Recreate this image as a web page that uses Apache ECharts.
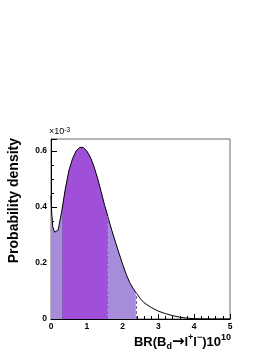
<!DOCTYPE html>
<html>
<head>
<meta charset="utf-8">
<script src="https://cdn.jsdelivr.net/npm/echarts@6/dist/echarts.min.js"></script>
<style>
html,body{margin:0;padding:0;background:#fff;}
#c{width:276px;height:357px;}
</style>
</head>
<body>
<div id="c"></div>
<script>
// Branching ratio BR(Bd -> l+ l-) x 10^10
const xs = [0, 0.02, 0.05, 0.1, 0.15, 0.2, 0.3, 0.31, 0.4, 0.5, 0.6, 0.7, 0.8, 0.85, 0.9, 1.0, 1.1, 1.2, 1.3, 1.4, 1.5, 1.57, 1.6, 1.7, 1.8, 1.9, 2.0, 2.1, 2.2, 2.3, 2.37, 2.4, 2.5, 2.6, 2.8, 3.0, 3.2, 3.4, 3.6, 3.8, 4.0, 4.5, 5.0];
// Probability density x 10^-3
const density = [0.44, 0.38, 0.33, 0.31, 0.305, 0.318, 0.385, 0.392, 0.465, 0.53, 0.572, 0.600, 0.613, 0.615, 0.613, 0.600, 0.578, 0.545, 0.503, 0.455, 0.405, 0.375, 0.36, 0.316, 0.275, 0.235, 0.196, 0.16, 0.13, 0.108, 0.095, 0.09, 0.072, 0.058, 0.041, 0.028, 0.019, 0.012, 0.0065, 0.003, 0.001, 0.0002, 0];
// interval boundaries
const innerBand = [0.31, 1.57];
const outerBand = [0, 2.37];
const xTicks = [0, 1, 2, 3, 4, 5];
const yTickLabels = [0, 0.2, 0.4, 0.6];

const pts = xs.map((x, i) => [x, density[i]]);
const valueAt = x => density[xs.indexOf(x)];
const outerPts = pts.filter(p => p[0] >= outerBand[0] && p[0] <= outerBand[1]);
const innerPts = pts.filter(p => p[0] >= innerBand[0] && p[0] <= innerBand[1]);
const bounds = [innerBand[0], innerBand[1], outerBand[1]];

const FONT = 'Liberation Sans';
const chart = echarts.init(document.getElementById('c'));
const yMax = 0.643;

chart.setOption({
  animation: false,
  backgroundColor: '#fff',
  grid: {left: 51, right: 46, top: 139, bottom: 38, show: true, borderColor: '#76686e', borderWidth: 1, backgroundColor: 'transparent'},
  xAxis: {
    type: 'value', min: xTicks[0], max: xTicks[xTicks.length - 1], interval: 1,
    axisLine: {show: true, lineStyle: {color: '#000', width: 1}},
    axisTick: {show: true, inside: true, length: 5, lineStyle: {color: '#000'}},
    minorTick: {show: true, splitNumber: 5, length: 3, lineStyle: {color: '#000'}},
    splitLine: {show: false},
    axisLabel: {fontSize: 8.5, fontWeight: 'bold', color: '#000', fontFamily: FONT, margin: 3}
  },
  yAxis: [
    {
      type: 'value', min: 0, max: yMax, interval: 0.05,
      axisLine: {show: true, lineStyle: {color: '#000', width: 1}},
      axisTick: {show: true, inside: true, length: 3, lineStyle: {color: '#000'}},
      axisLabel: {show: false}, splitLine: {show: false}
    },
    {
      type: 'value', min: 0, max: yMax, interval: 0.2, position: 'left', offset: 0,
      axisLine: {show: false},
      axisTick: {show: true, inside: true, length: 6, lineStyle: {color: '#000'}},
      splitLine: {show: false},
      axisLabel: {
        fontSize: 8.5, fontWeight: 'bold', color: '#000', fontFamily: FONT, margin: 4,
        formatter: v => {
          const hit = yTickLabels.find(t => Math.abs(t - v) < 1e-6);
          return hit === undefined ? '' : (hit === 0 ? '0' : hit.toFixed(1));
        }
      }
    }
  ],
  series: [
    {
      type: 'line', data: outerPts, showSymbol: false, silent: true, z: 1,
      lineStyle: {width: 0}, areaStyle: {color: '#a88cdc', opacity: 1}
    },
    {
      type: 'line', data: innerPts, showSymbol: false, silent: true, z: 2,
      lineStyle: {width: 0}, areaStyle: {color: '#a050d8', opacity: 1},
      markLine: {
        symbol: 'none', silent: true, label: {show: false},
        lineStyle: {color: '#7a64a8', type: [3, 2], width: 1},
        data: bounds.map(b => [{coord: [b, 0]}, {coord: [b, valueAt(b)]}])
      }
    },
    {
      type: 'line', data: pts, showSymbol: false, silent: true, z: 4,
      lineStyle: {color: '#000', width: 1}
    }
  ],
  graphic: [
    {
      type: 'text', x: 14, y: 138, rotation: Math.PI / 2,
      style: {text: 'Probability density', font: 'bold 14px "Liberation Sans"', fill: '#000',
        align: 'right', verticalAlign: 'middle', textAlign: 'right', textVerticalAlign: 'middle'}
    },
    {
      type: 'text', x: 231, y: 342,
      style: {
        text: '{m|BR(B}{s|d}{a|→}{m|l}{p|+}{m|l}{p|−}{m|)10}{p|10}',
        align: 'right', verticalAlign: 'middle', textAlign: 'right', textVerticalAlign: 'middle',
        fill: '#000',
        rich: {
          m: {fontSize: 13, fontWeight: 'bold', fontFamily: FONT, lineHeight: 18, fill: '#000', color: '#000'},
          a: {fontSize: 15, fontWeight: 'bold', fontFamily: 'DejaVu Sans', lineHeight: 18, fill: '#000', color: '#000'},
          s: {fontSize: 9, fontWeight: 'bold', fontFamily: FONT, lineHeight: 10, verticalAlign: 'bottom', fill: '#000', color: '#000'},
          p: {fontSize: 9, fontWeight: 'bold', fontFamily: FONT, lineHeight: 10, verticalAlign: 'top', fill: '#000', color: '#000'}
        }
      }
    },
    {
      type: 'text', x: 49, y: 132,
      style: {
        text: '{a|×10}{b|-3}',
        align: 'left', verticalAlign: 'middle', textAlign: 'left', textVerticalAlign: 'middle',
        rich: {
          a: {fontSize: 9, fontFamily: FONT, lineHeight: 10, fill: '#000', color: '#000'},
          b: {fontSize: 6.5, fontFamily: FONT, lineHeight: 6, verticalAlign: 'top', fill: '#000', color: '#000'}
        }
      }
    }
  ]
});
</script>
</body>
</html>
